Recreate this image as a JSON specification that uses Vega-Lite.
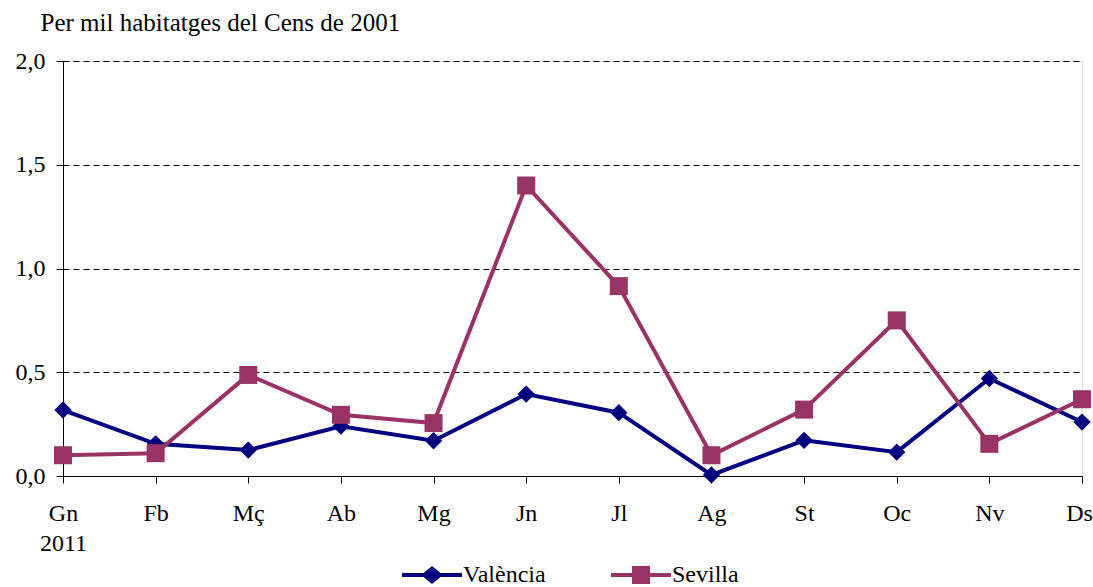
{
  "$schema": "https://vega.github.io/schema/vega-lite/v6.json",
  "width": 1019,
  "height": 415,
  "autosize": "none",
  "padding": {"left": 63, "top": 61, "right": 11, "bottom": 111},
  "background": "white",
  "config": {"font": "Liberation Serif"},
  "data": {
    "values": [
      {"mes": "Gn", "serie": "València", "valor": 0.318},
      {"mes": "Fb", "serie": "València", "valor": 0.155},
      {"mes": "Mç", "serie": "València", "valor": 0.125},
      {"mes": "Ab", "serie": "València", "valor": 0.24},
      {"mes": "Mg", "serie": "València", "valor": 0.17},
      {"mes": "Jn", "serie": "València", "valor": 0.395},
      {"mes": "Jl", "serie": "València", "valor": 0.305},
      {"mes": "Ag", "serie": "València", "valor": 0.005},
      {"mes": "St", "serie": "València", "valor": 0.172},
      {"mes": "Oc", "serie": "València", "valor": 0.115},
      {"mes": "Nv", "serie": "València", "valor": 0.47},
      {"mes": "Ds", "serie": "València", "valor": 0.26},
      {"mes": "Gn", "serie": "Sevilla", "valor": 0.1},
      {"mes": "Fb", "serie": "Sevilla", "valor": 0.11},
      {"mes": "Mç", "serie": "Sevilla", "valor": 0.487},
      {"mes": "Ab", "serie": "Sevilla", "valor": 0.295},
      {"mes": "Mg", "serie": "Sevilla", "valor": 0.255},
      {"mes": "Jn", "serie": "Sevilla", "valor": 1.4},
      {"mes": "Jl", "serie": "Sevilla", "valor": 0.915},
      {"mes": "Ag", "serie": "Sevilla", "valor": 0.1},
      {"mes": "St", "serie": "Sevilla", "valor": 0.32},
      {"mes": "Oc", "serie": "Sevilla", "valor": 0.75},
      {"mes": "Nv", "serie": "Sevilla", "valor": 0.155},
      {"mes": "Ds", "serie": "Sevilla", "valor": 0.37}
    ]
  },
  "encoding": {
    "x": {
      "field": "mes",
      "type": "ordinal",
      "sort": ["Gn", "Fb", "Mç", "Ab", "Mg", "Jn", "Jl", "Ag", "St", "Oc", "Nv", "Ds"],
      "scale": {"type": "point", "padding": 0},
      "axis": {
        "title": null,
        "labelAngle": 0,
        "labelFont": "Liberation Serif",
        "labelFontSize": 24,
        "labelColor": "black",
        "labelPadding": 18,
        "labelLineHeight": 30,
        "labelOffset": {"condition": {"test": "datum.value == 'Ds'", "value": -3}, "value": 0},
        "labelExpr": "datum.value == 'Gn' ? ['Gn', '2011'] : datum.value",
        "domainColor": "black",
        "domainWidth": 1,
        "tickColor": "black",
        "tickSize": 7,
        "grid": false
      }
    },
    "y": {
      "field": "valor",
      "type": "quantitative",
      "scale": {"domain": [0, 2], "nice": false},
      "axis": {
        "values": [0, 0.5, 1, 1.5, 2],
        "labelExpr": "replace(format(datum.value, '.1f'), '.', ',')",
        "labelFont": "Liberation Serif",
        "labelFontSize": 24,
        "labelColor": "black",
        "labelPadding": 11,
        "domainColor": "black",
        "tickColor": "black",
        "tickSize": 7,
        "grid": true,
        "gridColor": "black",
        "gridDash": [6, 4],
        "gridWidth": 1,
        "title": "Per mil habitatges del Cens de 2001",
        "titleFont": "Liberation Serif",
        "titleFontSize": 25,
        "titleFontWeight": "normal",
        "titleColor": "black",
        "titleAngle": 0,
        "titleAlign": "left",
        "titleBaseline": "alphabetic",
        "titleX": -23,
        "titleY": -31
      }
    },
    "color": {
      "field": "serie",
      "type": "nominal",
      "sort": ["València", "Sevilla"],
      "scale": {"domain": ["València", "Sevilla"], "range": ["#000080", "#993366"]},
      "legend": {
        "orient": "none",
        "direction": "horizontal",
        "legendX": 357,
        "legendY": 502,
        "title": null,
        "labelFont": "Liberation Serif",
        "labelFontSize": 24,
        "labelColor": "black",
        "symbolSize": 400,
        "symbolStrokeWidth": 0,
        "symbolOpacity": 1,
        "labelOffset": 19,
        "columnPadding": 65,
        "encode": {
          "symbols": {
            "update": {
              "shape": {"signal": "datum.value == 'València' ? 'M-3,-0.2L-0.85,-0.2L0,-0.9L0.85,-0.2L3,-0.2L3,0.2L0.85,0.2L0,0.9L-0.85,0.2L-3,0.2Z' : 'M-3,-0.2L-0.9,-0.2L-0.9,-0.9L0.9,-0.9L0.9,-0.2L3,-0.2L3,0.2L0.9,0.2L0.9,0.9L-0.9,0.9L-0.9,0.2L-3,0.2Z'"},
              "size": {"value": 400},
              "strokeWidth": {"value": 0},
              "opacity": {"value": 1}
            }
          }
        }
      }
    }
  },
  "layer": [
    {
      "mark": {"type": "line", "strokeWidth": 4}
    },
    {
      "transform": [{"filter": "datum.serie == 'València'"}],
      "mark": {"type": "point", "filled": true, "opacity": 1, "shape": "diamond", "size": 300}
    },
    {
      "transform": [{"filter": "datum.serie == 'Sevilla'"}],
      "mark": {"type": "point", "filled": true, "opacity": 1, "shape": "square", "size": 324}
    }
  ]
}
